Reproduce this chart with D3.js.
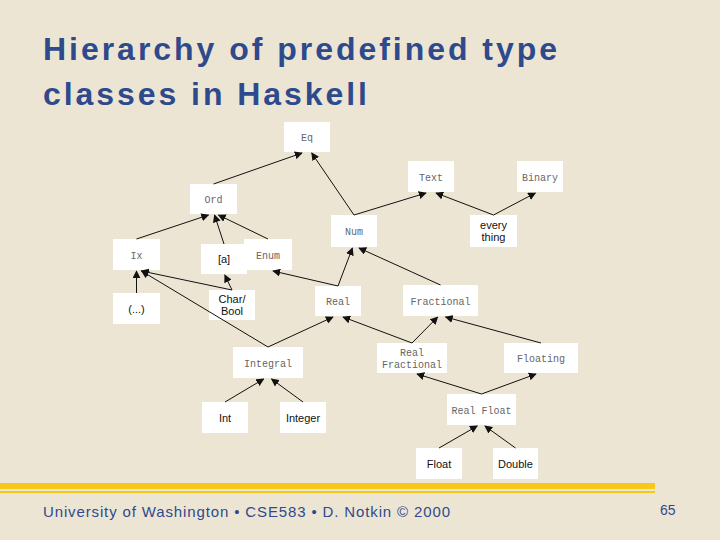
<!DOCTYPE html>
<html><head><meta charset="utf-8">
<script src="https://cdn.jsdelivr.net/npm/d3@7"></script>
<style>body{margin:0;background:#ede5d4}</style></head>
<body><script>
const titleLines = ["Hierarchy of predefined type", "classes in Haskell"];
const titleWidths = [514, 324];
const footer = "University of Washington • CSE583 • D. Notkin © 2000";
const pageNum = "65";
const nodeIds = ["Eq","Text","Binary","Ord","Num","every","Ix","a","Enum","dots","CharBool","Real","Fractional","Integral","RealFractional","Floating","Int","Integer","RealFloat","Float","Double"];
const nodeLabels = [["Eq"],["Text"],["Binary"],["Ord"],["Num"],["every","thing"],["Ix"],["[a]"],["Enum"],["(...)"],["Char/","Bool"],["Real"],["Fractional"],["Integral"],["Real","Fractional"],["Floating"],["Int"],["Integer"],["Real Float"],["Float"],["Double"]];
const nodeMono = [1,1,1,1,1,0,1,0,1,0,0,1,1,1,1,1,0,0,1,0,0];
const layout = [[284,122,330,152],[408,161,454,192],[517,161,563,192],[190,184,237,214],[331,215,377,247],[470,215,517,247],[113,239,160,270],[201,244,247,274],[244,239,292,270],[113,293,160,324],[209,290,255,320],[315,286,361,316],[403,285,478,316],[233,347,303,378],[377,343,447,373],[504,343,578,373],[202,402,248,433],[280,402,326,433],[447,394,516,425],[416,448,462,479],[493,448,538,479]];
const edges = [["Ord","Eq"],["Num","Eq"],["Num","Text"],["every","Text"],["every","Binary"],["Ix","Ord"],["a","Ord"],["Enum","Ord"],["dots","Ix"],["CharBool","Ix"],["CharBool","a"],["Real","Enum"],["Real","Num"],["Fractional","Num"],["Integral","Ix"],["Integral","Real"],["RealFractional","Real"],["RealFractional","Fractional"],["Floating","Fractional"],["Int","Integral"],["Integer","Integral"],["RealFloat","RealFractional"],["RealFloat","Floating"],["Float","RealFloat"],["Double","RealFloat"]];

const svg = d3.select("body").append("svg").attr("width",720).attr("height",540);
svg.append("rect").attr("width",720).attr("height",540).attr("fill","#ede5d4");
svg.append("defs").append("marker").attr("id","ah").attr("viewBox","0 0 10 10").attr("refX",9).attr("refY",5)
  .attr("markerWidth",8).attr("markerHeight",8).attr("orient","auto").attr("markerUnits","userSpaceOnUse")
  .append("path").attr("d","M0,0L10,5L0,10z").attr("fill","#111");

svg.selectAll("text.title").data(titleLines).join("text")
  .attr("x",43).attr("y",(d,i)=>60+i*45).attr("fill","#2e4a8c")
  .attr("font-family","Liberation Sans, Arial, sans-serif").attr("font-weight","bold").attr("font-size",32)
  .attr("textLength",(d,i)=>titleWidths[i]).attr("lengthAdjust","spacing").text(d=>d);

const nodes = nodeIds.map((id,i)=>({id,label:nodeLabels[i],mono:nodeMono[i],b:layout[i]}));
const byId = new Map(nodes.map(n=>[n.id,n]));

svg.selectAll("rect.node").data(nodes).join("rect")
  .attr("x",d=>d.b[0]).attr("y",d=>d.b[1]).attr("width",d=>d.b[2]-d.b[0]).attr("height",d=>d.b[3]-d.b[1]).attr("fill","#fff");

const cx = b=>(b[0]+b[2])/2;
svg.selectAll("line.edge").data(edges).join("line")
  .each(function([s,t]){
    const a=byId.get(s).b, b=byId.get(t).b;
    const sx=cx(a), sy=a[1];
    const tx0=cx(b);
    const tx=tx0+Math.max(-5,Math.min(5,(sx-tx0)*0.1));
    d3.select(this).attr("x1",sx).attr("y1",sy).attr("x2",tx).attr("y2",b[3]+1);
  })
  .attr("stroke","#111").attr("stroke-width",1).attr("marker-end","url(#ah)");

const lbl = svg.selectAll("g.lbl").data(nodes).join("g");
lbl.each(function(d){
  const g=d3.select(this), n=d.label.length, my=(d.b[1]+d.b[3])/2;
  d.label.forEach((t,i)=>{
    g.append("text").attr("x",cx(d.b)).attr("y",my+(i-(n-1)/2)*12+4).attr("text-anchor","middle")
      .attr("font-family",d.mono?"Liberation Mono, Courier New, monospace":"Liberation Sans, Arial, sans-serif")
      .attr("font-size",d.mono?10:11).attr("fill",d.mono?"#666":"#111").text(t);
  });
});

svg.append("rect").attr("x",0).attr("y",483).attr("width",655).attr("height",6).attr("fill","#f6c918");
svg.append("rect").attr("x",0).attr("y",491).attr("width",655).attr("height",2).attr("fill","#f6c918");
svg.append("text").attr("x",43).attr("y",517).attr("fill","#2e4a8c").attr("font-family","Liberation Sans, Arial, sans-serif")
  .attr("font-size",15).attr("textLength",407).attr("lengthAdjust","spacing").text(footer);
svg.append("text").attr("x",660).attr("y",515).attr("fill","#2e4a8c").attr("font-family","Liberation Sans, Arial, sans-serif")
  .attr("font-size",14).text(pageNum);
</script></body></html>
